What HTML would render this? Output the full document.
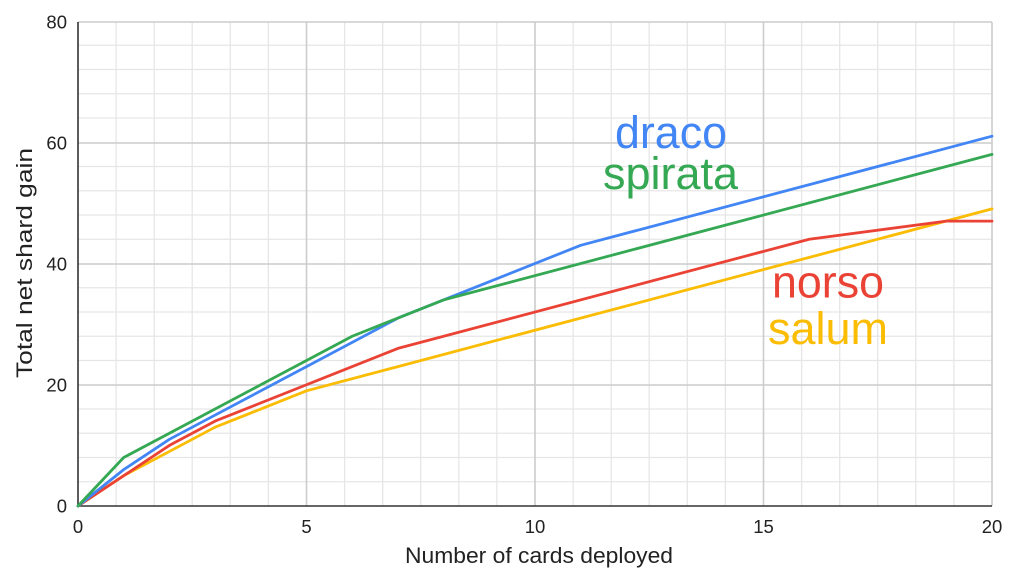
<!DOCTYPE html>
<html>
<head>
<meta charset="utf-8">
<style>
  html, body { margin: 0; padding: 0; background: #ffffff; }
  svg { display: block; }
  text { font-family: "Liberation Sans", Arial, sans-serif; }
</style>
</head>
<body>
<svg width="1024" height="583" viewBox="0 0 1024 583" xmlns="http://www.w3.org/2000/svg">
  <rect x="0" y="0" width="1024" height="583" fill="#ffffff"/>
  <!-- minor vertical grid -->
  <g stroke="#e6e6e6" stroke-width="1.3">
    <line x1="116.1" y1="22" x2="116.1" y2="506"/>
    <line x1="154.2" y1="22" x2="154.2" y2="506"/>
    <line x1="192.2" y1="22" x2="192.2" y2="506"/>
    <line x1="230.3" y1="22" x2="230.3" y2="506"/>
    <line x1="268.4" y1="22" x2="268.4" y2="506"/>
    <line x1="344.6" y1="22" x2="344.6" y2="506"/>
    <line x1="382.7" y1="22" x2="382.7" y2="506"/>
    <line x1="420.7" y1="22" x2="420.7" y2="506"/>
    <line x1="458.8" y1="22" x2="458.8" y2="506"/>
    <line x1="496.9" y1="22" x2="496.9" y2="506"/>
    <line x1="573.1" y1="22" x2="573.1" y2="506"/>
    <line x1="611.2" y1="22" x2="611.2" y2="506"/>
    <line x1="649.2" y1="22" x2="649.2" y2="506"/>
    <line x1="687.3" y1="22" x2="687.3" y2="506"/>
    <line x1="725.4" y1="22" x2="725.4" y2="506"/>
    <line x1="801.6" y1="22" x2="801.6" y2="506"/>
    <line x1="839.7" y1="22" x2="839.7" y2="506"/>
    <line x1="877.7" y1="22" x2="877.7" y2="506"/>
    <line x1="915.8" y1="22" x2="915.8" y2="506"/>
    <line x1="953.9" y1="22" x2="953.9" y2="506"/>
  </g>
  <!-- minor horizontal grid -->
  <g stroke="#e6e6e6" stroke-width="1.3">
    <line x1="78" y1="481.75" x2="992" y2="481.75"/>
    <line x1="78" y1="457.5" x2="992" y2="457.5"/>
    <line x1="78" y1="433.25" x2="992" y2="433.25"/>
    <line x1="78" y1="409" x2="992" y2="409"/>
    <line x1="78" y1="360.5" x2="992" y2="360.5"/>
    <line x1="78" y1="336.25" x2="992" y2="336.25"/>
    <line x1="78" y1="312" x2="992" y2="312"/>
    <line x1="78" y1="287.75" x2="992" y2="287.75"/>
    <line x1="78" y1="239.25" x2="992" y2="239.25"/>
    <line x1="78" y1="215" x2="992" y2="215"/>
    <line x1="78" y1="190.75" x2="992" y2="190.75"/>
    <line x1="78" y1="166.5" x2="992" y2="166.5"/>
    <line x1="78" y1="118" x2="992" y2="118"/>
    <line x1="78" y1="93.75" x2="992" y2="93.75"/>
    <line x1="78" y1="69.5" x2="992" y2="69.5"/>
    <line x1="78" y1="45.25" x2="992" y2="45.25"/>
  </g>
  <!-- major grid -->
  <g stroke="#cccccc" stroke-width="1.6">
    <line x1="306.5" y1="22" x2="306.5" y2="506"/>
    <line x1="535" y1="22" x2="535" y2="506"/>
    <line x1="763.5" y1="22" x2="763.5" y2="506"/>
    <line x1="992" y1="22" x2="992" y2="506"/>
    <line x1="78" y1="385" x2="992" y2="385"/>
    <line x1="78" y1="264" x2="992" y2="264"/>
    <line x1="78" y1="143" x2="992" y2="143"/>
    <line x1="78" y1="22" x2="992" y2="22"/>
  </g>
  <!-- axes -->
  <line x1="78" y1="22" x2="78" y2="507" stroke="#333333" stroke-width="1.6"/>
  <line x1="77" y1="506" x2="992" y2="506" stroke="#333333" stroke-width="1.6"/>

  <!-- series -->
  <g fill="none" stroke-width="2.8" stroke-linejoin="round" stroke-linecap="round">
    <polyline stroke="#FBBC04" points="78,506 123.7,475.7 215.1,427.2 306.5,390.8 397.9,366.6 992,208.9"/>
    <polyline stroke="#EA4335" points="78,506 123.7,475.7 169.4,445.4 215.1,421.1 306.5,384.75 397.9,348.4 809.2,239.25 946.3,221.1 992,221.1"/>
    <polyline stroke="#4285F4" points="78,506 123.7,469.6 169.4,439.3 306.5,366.6 397.9,318.1 580.7,245.3 992,136.2"/>
    <polyline stroke="#34A853" points="78,506 123.7,457.5 352.2,336.25 443.6,299.9 992,154.4"/>
  </g>

  <!-- y tick labels -->
  <g font-size="18.5" fill="#222222" text-anchor="end">
    <text x="67" y="512.5">0</text>
    <text x="67" y="391.5">20</text>
    <text x="67" y="270.5">40</text>
    <text x="67" y="149.5">60</text>
    <text x="67" y="28.5">80</text>
  </g>
  <!-- x tick labels -->
  <g font-size="18.5" fill="#222222" text-anchor="middle">
    <text x="78" y="533">0</text>
    <text x="306.5" y="533">5</text>
    <text x="535" y="533">10</text>
    <text x="763.5" y="533">15</text>
    <text x="992" y="533">20</text>
  </g>
  <!-- axis titles -->
  <text x="539" y="563" font-size="22.5" fill="#222222" text-anchor="middle" textLength="268" lengthAdjust="spacingAndGlyphs">Number of cards deployed</text>
  <text transform="translate(32,263) rotate(-90)" x="0" y="0" font-size="22.5" fill="#222222" text-anchor="middle" textLength="230" lengthAdjust="spacingAndGlyphs">Total net shard gain</text>

  <!-- series labels -->
  <g font-size="45">
    <text x="615" y="148" fill="#4285F4" textLength="112" lengthAdjust="spacingAndGlyphs">draco</text>
    <text x="603" y="189" fill="#34A853" textLength="135" lengthAdjust="spacingAndGlyphs">spirata</text>
    <text x="772" y="297.5" fill="#EA4335" textLength="112" lengthAdjust="spacingAndGlyphs">norso</text>
    <text x="768" y="344" fill="#FBBC04" textLength="120" lengthAdjust="spacingAndGlyphs">salum</text>
  </g>
</svg>
</body>
</html>
